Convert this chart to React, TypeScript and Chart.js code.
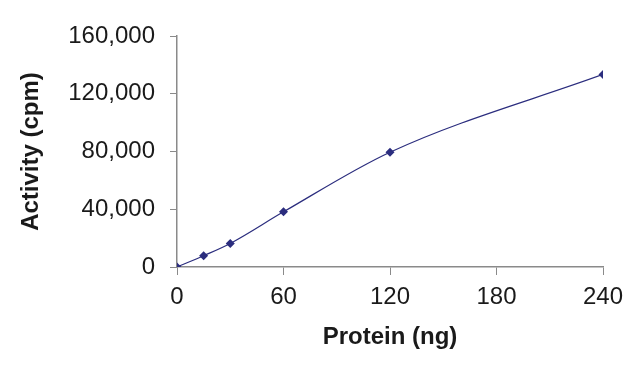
import React, { useEffect, useRef } from "react";
import { Chart, registerables } from "chart.js";

Chart.register(...registerables);

const proteinNg = [0, 15, 30, 60, 120, 240];
const activityCpm = [0, 7800, 16300, 38200, 79500, 133400];
const xTicks = [0, 60, 120, 180, 240];
const yTicks = [0, 40000, 80000, 120000, 160000];

const LINE = "#2B2D7E";
const AXIS = "#8a8a8a";
const TEXT = "#1a1a1a";
const FONT = "'Liberation Sans', Arial, sans-serif";

export default function App() {
  const ref = useRef<HTMLCanvasElement | null>(null);

  useEffect(() => {
    document.body.style.margin = "0";
    const canvas = ref.current;
    if (!canvas) return;
    const chart = new Chart(canvas, {
      type: "line",
      data: {
        datasets: [
          {
            data: proteinNg.map((x, i) => ({ x, y: activityCpm[i] })),
            borderColor: LINE,
            backgroundColor: LINE,
            borderWidth: 1.2,
            pointStyle: "rectRot",
            pointRadius: 4.5,
            pointBorderWidth: 0,
            cubicInterpolationMode: "monotone",
            fill: false,
          },
        ],
      },
      options: {
        responsive: false,
        animation: false,
        layout: { padding: { left: 0, right: 37, top: 36, bottom: 0 } },
        plugins: { legend: { display: false }, tooltip: { enabled: false } },
        scales: {
          x: {
            type: "linear",
            min: 0,
            max: 240,
            afterBuildTicks: (s: any) => {
              s.ticks = xTicks.map((v) => ({ value: v }));
            },
            afterFit: (s: any) => {
              s.height = 103;
            },
            grid: {
              drawOnChartArea: false,
              drawTicks: true,
              tickLength: 8,
              tickColor: AXIS,
              tickWidth: 1,
            },
            border: { color: AXIS, width: 1.5 },
            ticks: {
              color: TEXT,
              padding: 8,
              maxRotation: 0,
              font: { family: FONT, size: 24 },
              callback: (v: any) => String(v),
            },
            title: {
              display: true,
              text: "Protein (ng)",
              color: TEXT,
              padding: { top: 0, bottom: 18 },
              font: { family: FONT, size: 24, weight: "bold" },
            },
          },
          y: {
            type: "linear",
            min: 0,
            max: 160000,
            afterBuildTicks: (s: any) => {
              s.ticks = yTicks.map((v) => ({ value: v }));
            },
            afterFit: (s: any) => {
              s.width = 177;
            },
            grid: {
              drawOnChartArea: false,
              drawTicks: true,
              tickLength: 7,
              tickColor: AXIS,
              tickWidth: 1,
            },
            border: { color: AXIS, width: 1.5 },
            ticks: {
              color: TEXT,
              padding: 15,
              font: { family: FONT, size: 24 },
              callback: (v: any) => Number(v).toLocaleString("en-US"),
            },
            title: {
              display: true,
              text: "Activity (cpm)",
              color: TEXT,
              padding: { top: 17, bottom: 0 },
              font: { family: FONT, size: 24, weight: "bold" },
            },
          },
        },
      },
    });
    return () => chart.destroy();
  }, []);

  return (
    <div style={{ width: 640, height: 370, background: "#fff" }}>
      <canvas ref={ref} width={640} height={370} />
    </div>
  );
}
